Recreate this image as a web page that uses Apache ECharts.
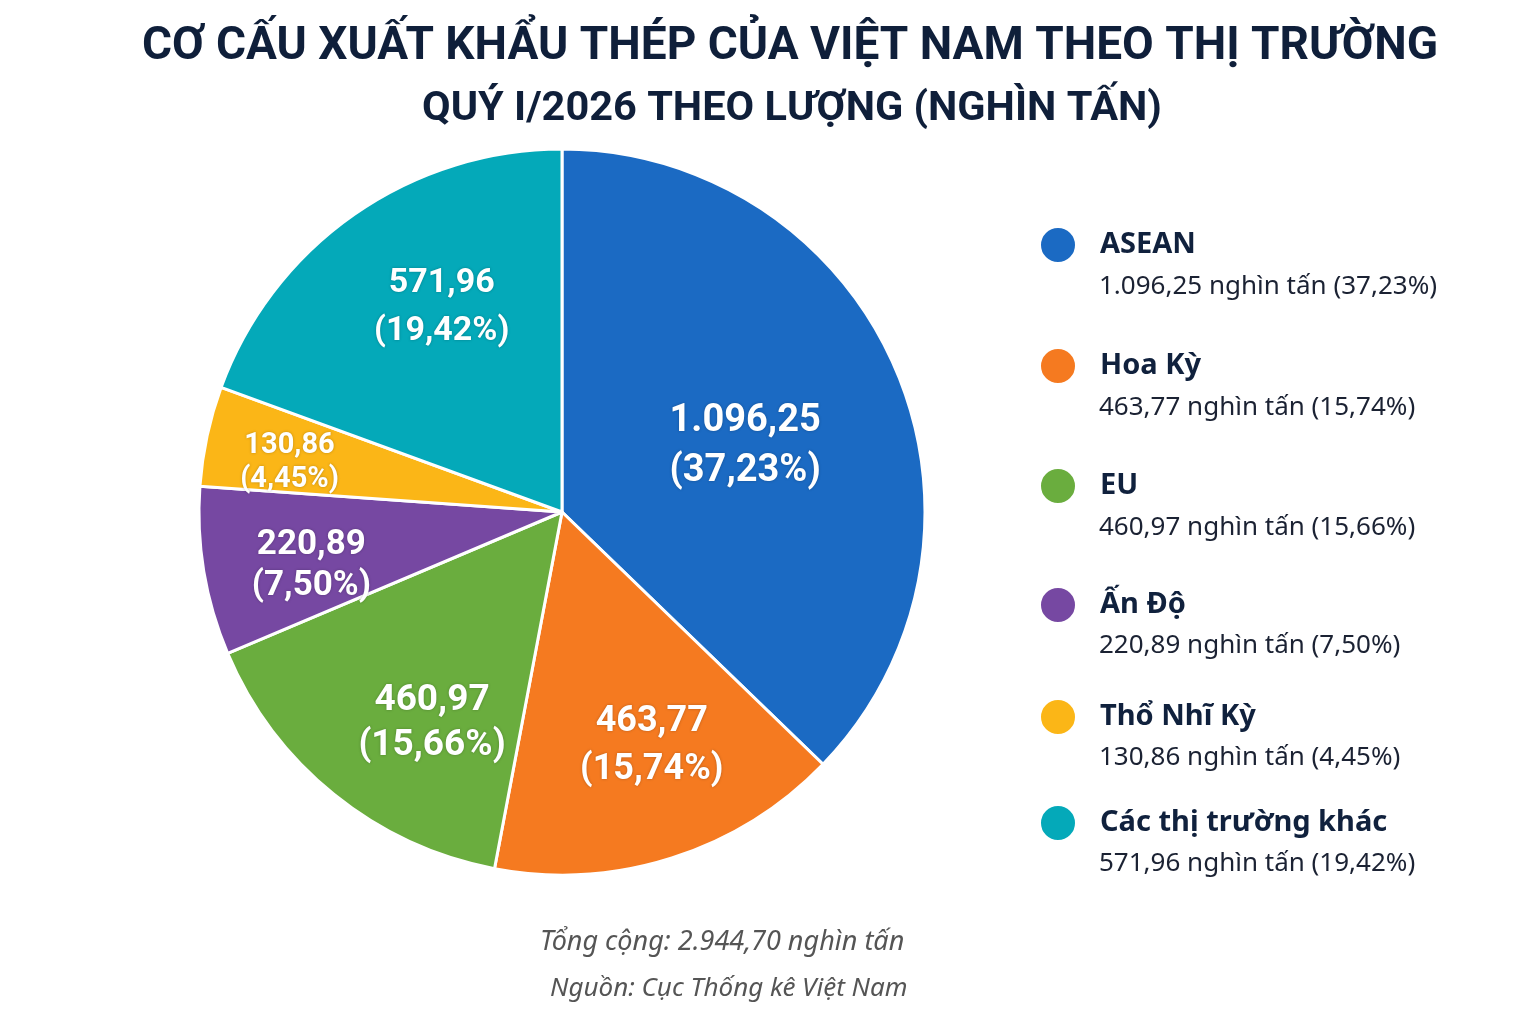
<!DOCTYPE html>
<html>
<head>
<meta charset="utf-8">
<script src="https://cdn.jsdelivr.net/npm/echarts@6/dist/echarts.min.js"></script>
<style>
  html, body { margin: 0; background: #fff; }
  #chart { width: 1536px; height: 1024px; }
</style>
</head>
<body>
<div id="chart"></div>
<script>
// Cơ cấu xuất khẩu thép Việt Nam theo thị trường - Quý I/2026

const markets = ['ASEAN', 'Hoa Kỳ', 'EU', 'Ấn Độ', 'Thổ Nhĩ Kỳ', 'Các thị trường khác'];
const volumes = [1096.25, 463.77, 460.97, 220.89, 130.86, 571.96]; // nghìn tấn
const shares = [37.23, 15.74, 15.66, 7.50, 4.45, 19.42];           // %

// ── style / layout ──
const COLORS = ['#1b6ac3', '#f57a20', '#6aad3e', '#7648a2', '#fbb617', '#04a9b9'];
const LABEL_SIZE = [38, 36, 37, 35, 29, 34];
const LABEL_LINE = [50, 48, 45, 41, 34, 48];
const LABEL_NUDGE = [[-47, 32], [14, -4], [27, 17], [-4, 13], [-28, 3], [23, 0]];
const LEGEND_NAME_Y = [243, 364, 484, 603, 715, 821];
const LEGEND_VALUE_Y = [285, 406, 526, 644, 756, 862];

// số kiểu Việt Nam: 1.096,25
function vn(v) {
  const [i, d] = v.toFixed(2).split('.');
  return i.replace(/\B(?=(\d{3})+(?!\d))/g, '.') + ',' + d;
}

const total = volumes.reduce((a, b) => a + b, 0);
const chart = echarts.init(document.getElementById('chart'));

const pieData = markets.map((name, i) => ({ name, value: volumes[i], itemStyle: { color: COLORS[i] } }));
const labelData = markets.map((name, i) => ({
  name, value: volumes[i],
  label: { fontSize: LABEL_SIZE[i], lineHeight: LABEL_LINE[i] },
}));

// mỗi mục chú giải: 1 dòng tên (có chấm tròn) + 1 dòng số liệu
const legends = [];
markets.forEach((name, i) => {
  const base = {
    orient: 'vertical', left: 1039, padding: 0, selectedMode: false,
    icon: 'circle', itemWidth: 36, itemHeight: 36, data: [name],
  };
  legends.push(Object.assign({}, base, {
    top: LEGEND_NAME_Y[i] - 17,
    formatter: n => '{n|' + n + '}',
    textStyle: {
      rich: { n: { fontFamily: 'Noto Sans', fontWeight: 'bold', fontSize: 29, color: '#10213d', lineHeight: 40, padding: [0, 0, 0, 19] } },
    },
  }));
  legends.push(Object.assign({}, base, {
    top: LEGEND_VALUE_Y[i] - 16,
    itemStyle: { color: 'rgba(0,0,0,0)', opacity: 0, borderWidth: 0 },
    formatter: () => '{v|' + vn(volumes[i]) + ' nghìn tấn (' + vn(shares[i]) + '%)}',
    textStyle: {
      rich: { v: { fontFamily: 'Noto Sans', fontSize: 26, color: '#1b2233', lineHeight: 40, padding: [0, 0, 0, 19] } },
    },
  }));
});

chart.setOption({
  animation: false,
  backgroundColor: '#fff',
  title: [
    {
      text: 'CƠ CẤU XUẤT KHẨU THÉP CỦA VIỆT NAM THEO THỊ TRƯỜNG',
      left: 790, textAlign: 'center', top: 24, padding: 0,
      textStyle: { fontFamily: 'Roboto', fontWeight: 'bold', fontSize: 46, color: '#0f1f3a' },
    },
    {
      text: 'QUÝ I/2026 THEO LƯỢNG (NGHÌN TẤN)',
      left: 792, textAlign: 'center', top: 89, padding: 0,
      textStyle: { fontFamily: 'Roboto', fontWeight: 'bold', fontSize: 41.5, color: '#0f1f3a' },
    },
    {
      text: 'Tổng cộng: ' + vn(total) + ' nghìn tấn',
      left: 540, top: 929, padding: 0,
      textStyle: { fontFamily: 'Noto Sans', fontStyle: 'italic', fontWeight: 'normal', fontSize: 27, color: '#555' },
    },
    {
      text: 'Nguồn: Cục Thống kê Việt Nam',
      left: 550, top: 976, padding: 0,
      textStyle: { fontFamily: 'Noto Sans', fontStyle: 'italic', fontWeight: 'normal', fontSize: 26, color: '#555' },
    },
  ],
  legend: legends,
  series: [
    {
      name: 'main', type: 'pie',
      center: [562, 512], radius: [0, 363],
      startAngle: 90, clockwise: true,
      itemStyle: { borderColor: '#fff', borderWidth: 3 },
      label: { show: false }, labelLine: { show: false },
      emphasis: { disabled: true },
      data: pieData,
    },
    {
      // vòng trong suốt, chỉ để đặt nhãn xa tâm hơn
      name: 'labels', type: 'pie', silent: true,
      center: [562, 512], radius: [0, 494],
      startAngle: 90, clockwise: true,
      itemStyle: { color: 'rgba(0,0,0,0)', borderWidth: 0 },
      emphasis: { disabled: true },
      tooltip: { show: false },
      label: {
        show: true, position: 'inside',
        fontFamily: 'Roboto', fontWeight: 'bold', color: '#fff',
        textShadowColor: 'rgba(0,0,0,0.25)', textShadowBlur: 3,
        formatter: p => vn(p.value) + '\n(' + vn(shares[p.dataIndex]) + '%)',
      },
      labelLine: { show: false },
      labelLayout: p => {
        const n = LABEL_NUDGE[p.dataIndex];
        return { dx: n[0], dy: n[1] };
      },
      data: labelData,
    },
  ],
});
</script>
</body>
</html>
